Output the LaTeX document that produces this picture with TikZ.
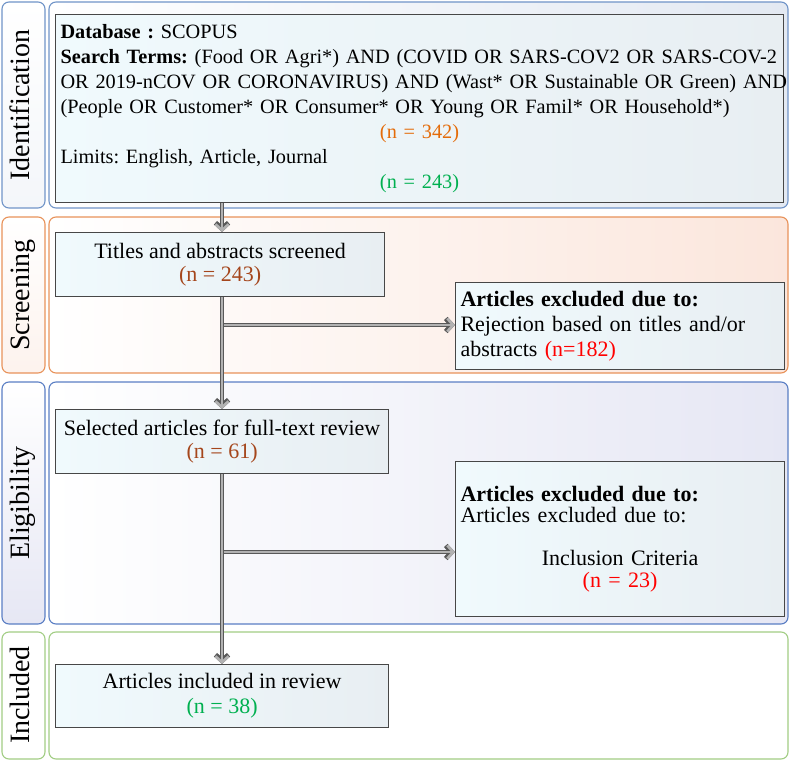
\documentclass[tikz,border=0pt]{standalone}
\usepackage{fontspec}
\setmainfont{Liberation Serif}
\usetikzlibrary{arrows.meta,calc}
\frenchspacing
\definecolor{idblue}{HTML}{7094C8}
\definecolor{scorange}{HTML}{E8925A}
\definecolor{elblue}{HTML}{5A7EC4}
\definecolor{ingreen}{HTML}{A2CD84}
\definecolor{idfill}{HTML}{E3E9F2}
\definecolor{scfill}{HTML}{FBE6DC}
\definecolor{elfill}{HTML}{E6E7F4}
\definecolor{norange}{HTML}{E46C0A}
\definecolor{ngreen}{HTML}{00B050}
\definecolor{nbrown}{HTML}{A5461C}
\definecolor{nred}{HTML}{FF0000}
\definecolor{boxfill}{HTML}{F0FAFD}
\definecolor{boxfillb}{HTML}{E8EEF2}
\begin{document}
\begin{tikzpicture}[x=1pt,y=-1pt,
  band/.style={rounded corners=7pt, line width=1.1pt},
  lbltext/.style={rotate=90, anchor=mid, font=\fontsize{28}{30}\selectfont, inner sep=0pt},
  box/.style={draw=black!72, line width=1.1pt, left color=boxfill, right color=boxfillb,
              inner sep=0pt, anchor=north west, font=\fontsize{22}{25}\selectfont},
  arr/.style={draw=black!30, line width=2.6pt, line join=miter,
              -{Straight Barb[length=6pt,width=13pt,line width=2.6pt]},
              preaction={draw=black!65, line width=4.8pt, line join=miter,
              -{Straight Barb[length=6pt,width=13pt,line width=4.8pt]}}},
  ]
\useasboundingbox (0,0) rectangle (790,762);
% bands
\draw[band, draw=idblue, top color=white, bottom color=idfill!40] (2,2) rectangle (45,208);
\draw[band, draw=idblue, left color=white, right color=idfill] (49,2) rectangle (788,208);
\draw[band, draw=scorange, top color=white, bottom color=scfill!50] (2,217) rectangle (45,373);
\draw[band, draw=scorange, left color=white, right color=scfill] (49,217) rectangle (788,373);
\draw[band, draw=elblue, top color=white, bottom color=elfill] (2,382) rectangle (45,624);
\draw[band, draw=elblue, left color=white, right color=elfill] (49,382) rectangle (788,624);
\draw[band, draw=ingreen, fill=white] (2,632) rectangle (45,759);
\draw[band, draw=ingreen, fill=white] (49,632) rectangle (788,759);
% labels
\node[lbltext] (lid) at (27,105) {Identification};
\node[lbltext] (lsc) at (27,295) {Screening};
\node[lbltext] (lel) at (27,503) {Eligibility};
\node[lbltext] (lin) at (27,695) {Included};
% boxes
\node[box, minimum width=728pt, minimum height=188pt, text width=718pt, align=left,
      font=\fontsize{20.3}{25}\selectfont] (db) at (55,14)
 {\mbox{\textbf{Database :} SCOPUS}\\
  \makebox[\linewidth][s]{\textbf{Search Terms:} (Food OR Agri*) AND (COVID OR SARS-COV2 OR SARS-COV-2}\\
  \makebox[\linewidth][s]{OR 2019-nCOV OR CORONAVIRUS) AND (Wast* OR Sustainable OR Green) AND}\\
  \mbox{(People OR Customer* OR Consumer* OR Young OR Famil* OR Household*)}\\
  \makebox[\linewidth]{\color{norange}(n = 342)}\\
  \mbox{Limits: English, Article, Journal}\\
  \makebox[\linewidth]{\color{ngreen}(n = 243)}};
\node[box, minimum width=329pt, minimum height=64pt, align=center, font=\fontsize{22}{23}\selectfont] (title) at (55,232)
 {Titles and abstracts screened\\{\color{nbrown}(n = 243)}};
\node[box, minimum width=329pt, minimum height=87pt, text width=319pt, align=left] (ex1) at (455,282)
 {\textbf{Articles excluded due to:}\\Rejection based on titles and/or\\abstracts {\color{nred}(n=182)}};
\node[box, minimum width=333pt, minimum height=64pt, align=center, font=\fontsize{22}{23}\selectfont] (sel) at (55,409)
 {Selected articles for full-text review\\{\color{nbrown}(n = 61)}};
\node[box, minimum width=329pt, minimum height=155pt, text width=319pt, align=left, font=\fontsize{22}{21.5}\selectfont] (ex2) at (455,461)
 {\textbf{Articles excluded due to:}\\Articles excluded due to:\\[21.5pt]
  \makebox[\linewidth]{Inclusion Criteria}\\
  \makebox[\linewidth]{\color{nred}(n = 23)}};
\node[box, minimum width=333pt, minimum height=63pt, align=center, font=\fontsize{22}{25}\selectfont] (inc) at (55,664)
 {Articles included in review\\{\color{ngreen}(n = 38)}};
% connectors
\coordinate (spine) at (222,0);
\coordinate (j1) at (222,325);
\coordinate (j2) at (222,552);
\draw[arr] (j1) -- (j1 -| ex1.west);
\draw[arr] (j2) -- (j2 -| ex2.west);
\draw[arr] (db.south -| spine) -- (title.north -| spine);
\draw[arr] (title.south -| spine) -- (sel.north -| spine);
\draw[arr] (sel.south -| spine) -- (inc.north -| spine);
\end{tikzpicture}
\end{document}
